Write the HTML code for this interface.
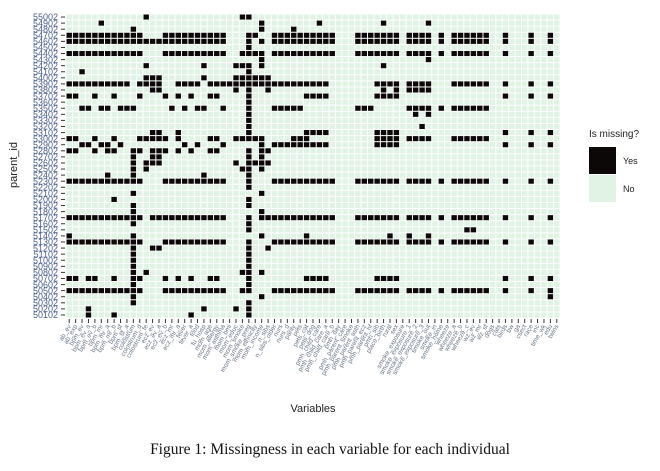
<!DOCTYPE html>
<html><head><meta charset="utf-8">
<style>
html,body{margin:0;padding:0;background:#fff;width:660px;height:471px;overflow:hidden}
svg{display:block}
.ylab{font-family:"Liberation Sans",sans-serif;font-size:9px;fill:#4a5e88}
.xlab{font-family:"Liberation Sans",sans-serif;font-size:6.5px;fill:#6a7488}
</style></head>
<body>
<svg id="chart" width="660" height="471" viewBox="0 0 660 471" xmlns="http://www.w3.org/2000/svg">
<g id="cells"></g>
<g id="yaxis"></g>
<g id="xaxis"></g>
<text x="0" y="0" transform="translate(17,165) rotate(-90)" text-anchor="middle" font-family="Liberation Sans, sans-serif" font-size="11" fill="#222">parent_id</text>
<text x="313" y="412" text-anchor="middle" font-family="Liberation Sans, sans-serif" font-size="11" fill="#222">Variables</text>
<g>
<text x="589" y="137" font-family="Liberation Sans, sans-serif" font-size="10" fill="#222">Is missing?</text>
<rect x="589" y="147" width="27" height="27" fill="#0c0808"/>
<text x="623" y="164" font-family="Liberation Sans, sans-serif" font-size="9" fill="#222">Yes</text>
<rect x="589" y="175" width="27" height="27" fill="#e0f3e4"/>
<text x="623" y="192" font-family="Liberation Sans, sans-serif" font-size="9" fill="#222">No</text>
</g>
<text x="330" y="454" text-anchor="middle" font-family="Liberation Serif, serif" font-size="15.5" fill="#111">Figure 1: Missingness in each variable for each individual</text>
</svg>
<script>
// parent ids, top to bottom
const parentIds = [];
for (let v = 55002; v >= 50102; v -= 100) parentIds.push(String(v));

// variable names (x categories)
const variables = ["ab_ev","ab_exp","bpm_ev","bpm_ev_a","bpm_ev_b","bpm_mr","bpm_mr_a","bpm_mr_b","bpm_sf","bpm_sf_a","colostrum","colostrum_d","colostrum_fe","ecz_ev","ecz_ev_a","ecz_ev_b","ecz_mr","ecz_mr_a","fever","fever_a","food","fu_hosp","mom_age","mom_allergy","mom_asthma","mom_bmi","mom_educ","mom_smoke","mom_smoke_preg","mom_ethnicity","mom_income","n_sibs","n_sibs_older","nurs","nurs_d","parity","pets","pets_cat","pets_dog","pmh_child_care","pmh_child_care_a","pmh_child_care_b","pmh_day","pmh_parent_care","pmh_parent_smoke","pmh_parent_asth","pmh_parent_ecz","pmh_parent_hf","pmh_sib","place_birth","rural","sex","smoke_exposure","smoke_exposure_1","smoke_exposure_2","smoke_exposure_3","smoke_out","smoke_in","smoke_home","wheeze","wheeze_a","wheeze_b","wheeze_c","wz_ev","wz_mr","wz_sf","dogs","cats","birds","bw","ga","csect","race","inc","time_wk","edu","twins"];

// missing cells per row, as column index ranges
const missing = [
"12,27,28",
"5,30,39,49,56",
"10,30,35",
"0-11,15-24,28,29,32-41,45-51,53-56,58,60-65,68,72,75",
"0-24,28,30,32-41,45-51,53-56,58,60-65,68,72,75",
"28",
"0-11,15-24,27-30,32-41,45-51,53-56,58,60-65,68,72,75",
"30,56",
"12,21,26-28,30,49",
"2,28",
"12-14,21,26-31",
"0-9,11-14,17-20,22-40,48-51,53-56,60-65,68,72,75",
"13,14,26,28,31,49,51,53-56",
"0,1,4,7,11,15,17,19,22,23,28,37-40,48-51,68,72,75",
"28",
"2,3,5,6,8-10,16,18,20,21,24,28,32-36,45-47,53-56,58,60-65",
"28,54,56",
"28",
"28,55",
"13,14,17,28,37-40,48-51,68,72,75",
"0,1,4,7,11-15,17,22,23,26-30,35-37,48-51,53-56,60-65",
"2,3,5,6,8,18,20,24,30,32-36,37-40,48-51,68,72,75",
"0,1,4,6,7,10,11,13-15,17,19,22,23,28,30,31",
"10,13,14,28,30",
"10,12-14,26,28-31",
"10,12,27,28,30",
"6,10,21,28",
"0-11,15-24,28,32-41,45-51,53-56,58,60-65,68,72,75",
"28",
"10,30",
"7,28",
"10,28",
"10,30",
"0-11,13-24,28,30-41,45-51,53-56,58,60-65,68,72,75",
"10,28",
"28,62,63",
"0,10,30,37,50,53,56",
"0-11,15-24,28,32-41,45-51,53-56,58,60-65,68,72,75",
"10,13,14,28,31",
"10,28",
"10,28",
"10,28",
"10,12,27,28,30",
"0,1,3,4,7,10,11,15,17,19,22,23,28,37-40,48-51,68,72,75",
"10,28",
"0-11,15-24,27,28,32-41,45-51,53-56,58,60-65,68,72,75",
"10,30,75",
"10,28",
"3,21,26,28",
"3,7,19,28"
];

const NS = "http://www.w3.org/2000/svg";
const X0 = 66, X1 = 560, Y0 = 14, Y1 = 318;
const nC = variables.length, nR = parentIds.length;
const cw = (X1 - X0) / nC, ch = (Y1 - Y0) / nR;
function xPos(i) { return X0 + i * cw; }
function yPos(j) { return Y0 + j * ch; }
function parseRanges(s) {
  const set = new Set();
  if (!s) return set;
  s.split(",").forEach(p => {
    const [a, b] = p.split("-").map(Number);
    for (let k = a; k <= (b === undefined ? a : b); k++) set.add(k);
  });
  return set;
}

const cells = document.getElementById("cells");
const bg = document.createElementNS(NS, "rect");
bg.setAttribute("x", X0); bg.setAttribute("y", Y0);
bg.setAttribute("width", X1 - X0); bg.setAttribute("height", Y1 - Y0);
bg.setAttribute("fill", "#ffffff");


cells.appendChild(bg);

for (let j = 0; j < nR; j++) {
  const set = parseRanges(missing[j]);
  for (let i = 0; i < nC; i++) {
    const r = document.createElementNS(NS, "rect");
    const m = set.has(i);
    r.setAttribute("x", (xPos(i) + 0.5).toFixed(2));
    r.setAttribute("y", (yPos(j) + 0.5).toFixed(2));
    r.setAttribute("width", (cw - 1).toFixed(2));
    r.setAttribute("height", (ch - 1).toFixed(2));
    r.setAttribute("fill", m ? "#0c0808" : "#e0f3e4");
    
    
    cells.appendChild(r);
  }
}

const yaxis = document.getElementById("yaxis");
for (let j = 0; j < nR; j++) {
  const yc = yPos(j) + ch / 2;
  const t = document.createElementNS(NS, "text");
  t.setAttribute("x", 58); t.setAttribute("y", (yc + 3.2).toFixed(2));
  t.setAttribute("text-anchor", "end");
  t.setAttribute("class", "ylab");
  
  
  t.textContent = parentIds[j];
  yaxis.appendChild(t);
  const tk = document.createElementNS(NS, "line");
  tk.setAttribute("x1", 61); tk.setAttribute("x2", 65);
  tk.setAttribute("y1", yc); tk.setAttribute("y2", yc);
  tk.setAttribute("stroke", "#333"); tk.setAttribute("stroke-width", "1");
  
  
  yaxis.appendChild(tk);
}

const xaxis = document.getElementById("xaxis");
for (let i = 0; i < nC; i++) {
  const xc = xPos(i) + cw / 2;
  const tk = document.createElementNS(NS, "line");
  tk.setAttribute("x1", xc); tk.setAttribute("x2", xc);
  tk.setAttribute("y1", 319); tk.setAttribute("y2", 323);
  tk.setAttribute("stroke", "#333"); tk.setAttribute("stroke-width", "1");
  
  
  xaxis.appendChild(tk);
  const t = document.createElementNS(NS, "text");
  t.setAttribute("x", 0); t.setAttribute("y", 0);
  t.setAttribute("text-anchor", "end");
  t.setAttribute("transform", "translate(" + (xc + 2).toFixed(2) + ",326) rotate(-60)");
  t.setAttribute("class", "xlab");
  
  
  t.textContent = variables[i];
  xaxis.appendChild(t);
}
</script>
</body></html>
